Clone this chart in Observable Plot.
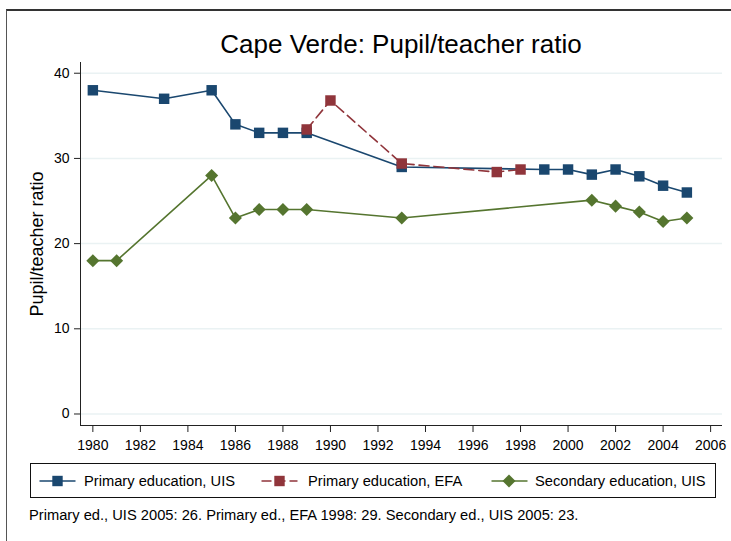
<!DOCTYPE html>
<html>
<head>
<meta charset="utf-8">
<script src="https://cdn.jsdelivr.net/npm/d3@7"></script>
<script src="https://cdn.jsdelivr.net/npm/@observablehq/plot@0.6"></script>
<style>
  html, body { margin: 0; padding: 0; background: #fff; }
  body { width: 731px; height: 541px; position: relative; overflow: hidden;
         font-family: "Liberation Sans", Arial, Helvetica, sans-serif; color: #000; }
  .frame { position: absolute; left: 6px; top: 9px; width: 800px; height: 600px;
           border-top: 2px solid #333; border-left: 1px solid #555; }
  .title { position: absolute; left: 80px; width: 642px; top: 30.7px; text-align: center;
           font-size: 26px; line-height: 26px; white-space: nowrap; }
  .ylabel { position: absolute; left: 37px; top: 243.5px; width: 0; height: 0; }
  .ylabel span { position: absolute; left: 0; top: 0; transform: translate(-50%, -50%) rotate(-90deg);
                 font-size: 18px; line-height: 18px; white-space: nowrap; display: block; }
  #chart { position: absolute; left: 0; top: 56px; }
  .legend { position: absolute; left: 30px; top: 463px; width: 684px; height: 33px;
            border: 1px solid #111; }
  .item { position: absolute; font-size: 14.7px; line-height: 14.7px; white-space: nowrap; }
  .sw { position: absolute; }
  .caption { position: absolute; left: 29px; top: 507.6px; font-size: 14.7px; line-height: 14.7px;
             white-space: nowrap; }
</style>
</head>
<body>
<div class="frame"></div>
<div class="title">Cape Verde: Pupil/teacher ratio</div>
<div id="chart"></div>
<div class="ylabel"><span id="ylab"></span></div>
<div class="legend" id="legend"></div>
<div class="caption">Primary ed., UIS 2005: 26. Primary ed., EFA 1998: 29. Secondary ed., UIS 2005: 23.</div>
<script>
// ---- data ----
const seriesNames = ["Primary education, UIS", "Primary education, EFA", "Secondary education, UIS"];
const yearsPrimaryUIS = [1980, 1983, 1985, 1986, 1987, 1988, 1989, 1993, 1999, 2000, 2001, 2002, 2003, 2004, 2005];
const primaryUIS      = [38,   37,   38,   34,   33,   33,   33,   29,   28.7, 28.7, 28.1, 28.7, 27.9, 26.8, 26];
const yearsPrimaryEFA = [1989, 1990, 1993, 1997, 1998];
const primaryEFA      = [33.4, 36.8, 29.4, 28.4, 28.7];
const yearsSecondaryUIS = [1980, 1981, 1985, 1986, 1987, 1988, 1989, 1993, 2001, 2002, 2003, 2004, 2005];
const secondaryUIS      = [18,   18,   28,   23,   24,   24,   24,   23,   25.1, 24.4, 23.7, 22.6, 23];
const xTicks = [1980, 1982, 1984, 1986, 1988, 1990, 1992, 1994, 1996, 1998, 2000, 2002, 2004, 2006];
const yTicks = [0, 10, 20, 30, 40];
const yLabel = "Pupil/teacher ratio";

// ---- style ----
const colors = ["#1a476f", "#90353b", "#55752f"];
const xDomain = [1979.48, 2006.5];
const yDomain = [-1.35, 41.26];

const toRows = (years, vals, s) => years.map((year, i) => ({year, value: vals[i], series: s}));
const dPU = toRows(yearsPrimaryUIS, primaryUIS, seriesNames[0]);
const dPE = toRows(yearsPrimaryEFA, primaryEFA, seriesNames[1]);
const dSU = toRows(yearsSecondaryUIS, secondaryUIS, seriesNames[2]);

const diamond = {
  draw(ctx, size) {
    const s = Math.sqrt(size / 2);
    ctx.moveTo(0, -s); ctx.lineTo(s, 0); ctx.lineTo(0, s); ctx.lineTo(-s, 0); ctx.closePath();
  }
};

const chart = Plot.plot({
  width: 731,
  height: 404,
  marginLeft: 80,
  marginRight: 9,
  marginTop: 6,
  marginBottom: 35,
  style: {fontFamily: '"Liberation Sans", Arial, Helvetica, sans-serif', color: "#000", background: "transparent"},
  x: {domain: xDomain},
  y: {domain: yDomain},
  marks: [
    Plot.gridY(yTicks, {stroke: "#eaf2f3", strokeOpacity: 1, strokeWidth: 1.5}),
    Plot.ruleX([xDomain[0]], {stroke: "#222"}),
    Plot.ruleY([yDomain[0]], {stroke: "#222"}),
    Plot.axisY({ticks: yTicks, tickSize: 6, tickPadding: 5, fontSize: 14, label: null, stroke: "#222"}),
    Plot.axisX({ticks: xTicks, tickSize: 7, tickPadding: 8, fontSize: 14, label: null, tickFormat: d => String(d), stroke: "#222"}),
    Plot.line(dPU, {x: "year", y: "value", stroke: colors[0], strokeWidth: 1.6}),
    Plot.dot(dPU, {x: "year", y: "value", symbol: "square", r: 5.9, fill: colors[0], stroke: "none"}),
    Plot.line(dPE, {x: "year", y: "value", stroke: colors[1], strokeWidth: 1.6, strokeDasharray: "10,5"}),
    Plot.dot(dPE, {x: "year", y: "value", symbol: "square", r: 5.9, fill: colors[1], stroke: "none"}),
    Plot.line(dSU, {x: "year", y: "value", stroke: colors[2], strokeWidth: 1.6}),
    Plot.dot(dSU, {x: "year", y: "value", symbol: diamond, r: 5.2, fill: colors[2], stroke: "none"})
  ]
});
document.getElementById("chart").appendChild(chart);
document.getElementById("ylab").textContent = yLabel;

// ---- legend ----
const legend = document.getElementById("legend");
const legendItems = [
  {swLeft: 8, textLeft: 53, marker: "square", dash: null},
  {swLeft: 230, textLeft: 277, marker: "square", dash: "10,4"},
  {swLeft: 460, textLeft: 504, marker: "diamond", dash: null}
];
legendItems.forEach((it, i) => {
  const ns = "http://www.w3.org/2000/svg";
  const svg = document.createElementNS(ns, "svg");
  svg.setAttribute("width", 38); svg.setAttribute("height", 16);
  svg.setAttribute("class", "sw");
  svg.style.left = it.swLeft + "px"; svg.style.top = "9px";
  const line = document.createElementNS(ns, "line");
  line.setAttribute("x1", 0.5); line.setAttribute("x2", 36.5);
  line.setAttribute("y1", 8); line.setAttribute("y2", 8);
  line.setAttribute("stroke", colors[i]); line.setAttribute("stroke-width", 1.6);
  if (it.dash) line.setAttribute("stroke-dasharray", it.dash);
  svg.appendChild(line);
  if (it.marker === "square") {
    const r = document.createElementNS(ns, "rect");
    r.setAttribute("x", 18.5 - 5.2); r.setAttribute("y", 8 - 5.2);
    r.setAttribute("width", 10.4); r.setAttribute("height", 10.4);
    r.setAttribute("fill", colors[i]);
    svg.appendChild(r);
  } else {
    const p = document.createElementNS(ns, "path");
    p.setAttribute("d", "M18,1.5L24.5,8L18,14.5L11.5,8Z");
    p.setAttribute("fill", colors[i]);
    svg.appendChild(p);
  }
  legend.appendChild(svg);
  const t = document.createElement("div");
  t.className = "item";
  t.style.left = it.textLeft + "px"; t.style.top = "10.3px";
  t.textContent = seriesNames[i];
  legend.appendChild(t);
});
</script>
</body>
</html>
